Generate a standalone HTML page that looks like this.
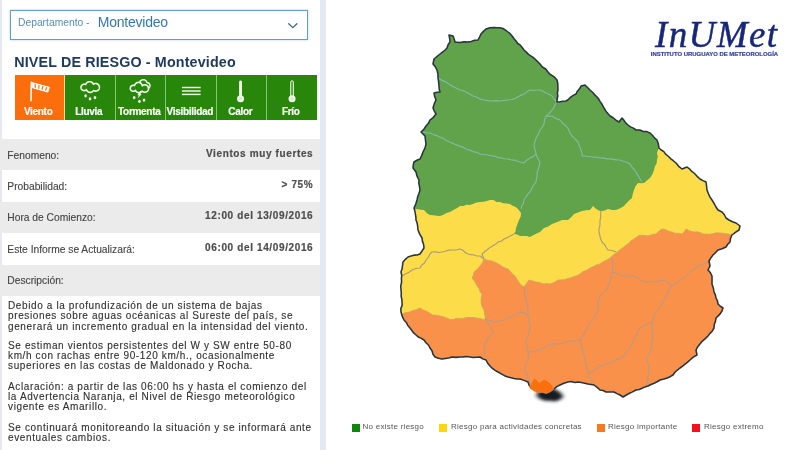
<!DOCTYPE html>
<html lang="es">
<head>
<meta charset="utf-8">
<title>INUMET - Nivel de Riesgo - Montevideo</title>
<style>
html,body{margin:0;padding:0;}
body{transform:translateZ(0);width:800px;height:450px;overflow:hidden;background:#fff;position:relative;font-family:"Liberation Sans",Arial,Helvetica,sans-serif;}
.abs{position:absolute;white-space:nowrap;line-height:1;}
.lstrip{position:absolute;left:0;top:0;width:1.7px;height:450px;background:#e6e9f0;}
.rstrip{position:absolute;left:319.6px;top:0;width:6.1px;height:450px;background:#e4eaf3;}
.select{position:absolute;left:10px;top:10px;width:296px;height:28px;border:1px solid #5fa1c6;background:#fff;box-shadow:0 0 2px rgba(95,165,200,.5);}
.dep{left:18px;top:17.9px;font-size:10.3px;color:#578bbb;}
.mvd{left:97.8px;top:15.2px;font-size:14px;letter-spacing:-.24px;color:#3577b5;}
.title{left:14.2px;top:54.9px;font-size:14.3px;font-weight:700;color:#1f3b61;letter-spacing:.15px;}
.tabs{position:absolute;left:14.6px;top:75.4px;width:302.2px;height:44.4px;background:#86c772;display:flex;}
.tab{flex:1;background:#28870a;margin-right:1px;position:relative;}
.tab:last-child{margin-right:0;}
.tab.on{background:#fc6e0b;}
.tab.on::after{content:"";position:absolute;right:-1px;top:0;width:1px;height:100%;background:#ecdca2;}
.tab span{position:absolute;left:-2.4px;right:0;top:31.3px;text-align:center;font-size:10px;font-weight:700;color:#fff;letter-spacing:-.3px;line-height:1;-webkit-text-stroke:.18px #fff;}
.tab svg{position:absolute;left:0;top:0;}
.row{position:absolute;left:0;width:319.7px;background:#ebebeb;}
.lab{left:7.3px;font-size:10.25px;color:#444;-webkit-text-stroke:.12px #444;}
.val{right:486.7px;font-size:10px;font-weight:700;color:#4e4e4e;letter-spacing:.63px;-webkit-text-stroke:.2px #4e4e4e;}
.desc{position:absolute;left:8px;font-size:10px;line-height:10.15px;letter-spacing:.625px;color:#303030;-webkit-text-stroke:.12px #303030;white-space:nowrap;}
.map{position:absolute;left:327px;top:0;}
.logo{left:655px;top:16.3px;font-family:"Liberation Serif","Times New Roman",serif;font-style:italic;font-size:37px;color:#17277c;letter-spacing:1.4px;-webkit-text-stroke:.45px #17277c;}
.sub{left:650.8px;top:51.5px;font-size:5.95px;font-weight:700;color:#34429c;-webkit-text-stroke:.2px #34429c;}
.sq{position:absolute;top:424.3px;width:8.2px;height:7.7px;}
.lg{top:422.9px;font-size:8px;letter-spacing:.26px;color:#555;}
</style>
</head>
<body>
<div class="lstrip"></div>
<div class="rstrip"></div>

<div class="select"></div>
<div class="abs dep">Departamento -</div>
<div class="abs mvd">Montevideo</div>
<svg class="abs" style="left:286px;top:21px" width="14" height="10" viewBox="0 0 14 10"><polyline points="2.7,2.7 6.8,6.6 10.9,2.7" fill="none" stroke="#3b6283" stroke-width="1.25" stroke-linecap="round" stroke-linejoin="round"/></svg>

<div class="abs title">NIVEL DE RIESGO - Montevideo</div>

<div class="tabs">
  <div class="tab on"><svg width="50" height="45" viewBox="0 0 50 45"><line x1="16.4" y1="7.2" x2="16" y2="25.6" stroke="#fff" stroke-width="1.6" stroke-linecap="round"/><polygon points="17,7.6 34.4,12.3 32.8,17.1 17.4,12.7" fill="#fff" stroke="#fff" stroke-width="0.9" stroke-linejoin="round"/><polygon points="19.61,9.00 20.83,9.33 20.79,12.97 19.71,12.66" fill="#fc6e0b"/><polygon points="23.44,10.04 24.66,10.37 24.18,13.94 23.10,13.63" fill="#fc6e0b"/><polygon points="27.27,11.07 28.48,11.40 27.56,14.90 26.49,14.60" fill="#fc6e0b"/><polygon points="31.09,12.11 32.31,12.44 30.95,15.87 29.87,15.56" fill="#fc6e0b"/></svg><span>Viento</span></div>
  <div class="tab"><svg width="50" height="45" viewBox="0 0 50 45"><path d="M28.37,9.04 L28.24,8.80 L28.09,8.57 L27.93,8.34 L27.76,8.13 L27.57,7.93 L27.37,7.74 L27.16,7.57 L26.93,7.41 L26.70,7.26 L26.46,7.13 L26.21,7.02 L25.95,6.92 L25.69,6.84 L25.42,6.78 L25.15,6.74 L24.87,6.71 L24.60,6.70 L24.33,6.71 L24.05,6.74 L23.78,6.78 L23.51,6.84 L23.25,6.92 L22.99,7.02 L22.74,7.13 L22.50,7.26 L22.27,7.41 L22.04,7.57 L21.83,7.74 L21.63,7.93 L21.44,8.13 L21.27,8.34 L21.11,8.57 L20.96,8.80 L20.83,9.04 L20.72,9.29 L20.63,9.54 L20.52,9.49 L20.33,9.41 L20.13,9.34 L19.93,9.28 L19.72,9.24 L19.51,9.22 L19.30,9.20 L19.10,9.20 L18.89,9.22 L18.68,9.24 L18.47,9.28 L18.27,9.34 L18.07,9.41 L17.88,9.49 L17.69,9.58 L17.51,9.68 L17.34,9.80 L17.17,9.93 L17.01,10.06 L16.86,10.21 L16.73,10.37 L16.60,10.54 L16.48,10.71 L16.38,10.89 L16.29,11.08 L16.21,11.27 L16.14,11.47 L16.08,11.67 L16.04,11.88 L16.02,12.09 L16.00,12.30 L16.00,12.50 L16.02,12.71 L16.04,12.92 L16.08,13.13 L16.14,13.33 L16.21,13.53 L16.29,13.72 L16.38,13.91 L16.48,14.09 L16.60,14.26 L16.73,14.43 L16.86,14.59 L17.01,14.74 L17.17,14.87 L17.34,15.00 L17.51,15.12 L17.69,15.22 L17.88,15.31 L18.07,15.39 L18.27,15.46 L18.47,15.52 L18.68,15.56 L18.89,15.58 L19.10,15.60 L19.30,15.60 L19.51,15.58 L19.72,15.56 L19.93,15.52 L20.13,15.46 L20.33,15.39 L20.52,15.31 L20.71,15.22 L20.89,15.12 L21.06,15.00 L21.23,14.87 L21.39,14.74 L21.53,14.59 L21.60,14.82 L21.69,15.05 L21.79,15.28 L21.91,15.50 L22.04,15.71 L22.19,15.91 L22.34,16.11 L22.51,16.29 L22.69,16.46 L22.89,16.61 L23.09,16.76 L23.30,16.89 L23.52,17.01 L23.75,17.11 L23.98,17.20 L24.22,17.27 L24.46,17.33 L24.70,17.37 L24.95,17.39 L25.20,17.40 L25.45,17.39 L25.70,17.37 L25.94,17.33 L26.18,17.27 L26.42,17.20 L26.65,17.11 L26.88,17.01 L27.10,16.89 L27.31,16.76 L27.51,16.61 L27.71,16.46 L27.89,16.29 L28.06,16.11 L28.21,15.91 L28.36,15.71 L28.49,15.50 L28.59,15.53 L28.81,15.65 L29.03,15.76 L29.26,15.86 L29.50,15.94 L29.74,16.00 L29.98,16.05 L30.23,16.08 L30.48,16.10 L30.72,16.10 L30.97,16.08 L31.22,16.05 L31.46,16.00 L31.70,15.94 L31.94,15.86 L32.17,15.76 L32.39,15.65 L32.61,15.53 L32.81,15.39 L33.01,15.24 L33.20,15.07 L33.37,14.90 L33.54,14.71 L33.69,14.51 L33.83,14.31 L33.95,14.09 L34.06,13.87 L34.16,13.64 L34.24,13.40 L34.30,13.16 L34.35,12.92 L34.38,12.67 L34.40,12.42 L34.40,12.18 L34.38,11.93 L34.35,11.68 L34.30,11.44 L34.24,11.20 L34.16,10.96 L34.06,10.73 L33.95,10.51 L33.83,10.29 L33.69,10.09 L33.54,9.89 L33.37,9.70 L33.20,9.53 L33.01,9.36 L32.81,9.21 L32.61,9.07 L32.39,8.95 L32.17,8.84 L31.94,8.74 L31.70,8.66 L31.46,8.60 L31.22,8.55 L30.97,8.52 L30.72,8.50 L30.48,8.50 L30.23,8.52 L29.98,8.55 L29.74,8.60 L29.50,8.66 L29.26,8.74 L29.03,8.84 L28.81,8.95 L28.59,9.07 L28.43,9.18 L28.37,9.04 Z" fill="none" stroke="#f3fbec" stroke-width="1.6" stroke-linejoin="round" /><ellipse cx="20.6" cy="20.8" rx="1.3" ry="1.65" fill="#f3fbec"/><ellipse cx="25" cy="23.8" rx="1.3" ry="1.65" fill="#f3fbec"/><ellipse cx="30" cy="22.6" rx="1.3" ry="1.65" fill="#f3fbec"/></svg><span>Lluvia</span></div>
  <div class="tab"><svg width="50" height="45" viewBox="0 0 50 45"><path d="M30.90,7.56 L30.84,7.33 L30.76,7.10 L30.67,6.87 L30.56,6.66 L30.44,6.45 L30.31,6.24 L30.16,6.05 L30.00,5.87 L29.83,5.70 L29.65,5.54 L29.46,5.39 L29.25,5.26 L29.04,5.14 L28.83,5.03 L28.60,4.94 L28.37,4.86 L28.14,4.80 L27.90,4.75 L27.66,4.72 L27.42,4.70 L27.18,4.70 L26.94,4.72 L26.70,4.75 L26.46,4.80 L26.23,4.86 L26.00,4.94 L25.77,5.03 L25.56,5.14 L25.35,5.26 L25.14,5.39 L24.95,5.54 L24.77,5.70 L24.60,5.87 L24.44,6.05 L24.29,6.24 L24.16,6.45 L24.04,6.66 L23.93,6.87 L23.84,7.10 L23.76,7.33 L23.70,7.56 L23.65,7.80 L23.62,8.04 L23.60,8.28 L23.60,8.52 L23.62,8.76 L23.65,9.00 L23.70,9.24 L23.76,9.47 L23.84,9.70 L23.93,9.93 L24.04,10.14 L24.16,10.35 L24.29,10.56 L24.44,10.75 L24.60,10.93 L24.77,11.10 L24.95,11.26 L25.14,11.41 L25.35,11.54 L25.56,11.66 L25.77,11.77 L26.00,11.86 L26.23,11.94 L26.46,12.00 L26.70,12.05 L26.94,12.08 L27.18,12.10 L27.42,12.10 L27.66,12.08 L27.90,12.05 L28.14,12.00 L28.32,11.96 L28.40,12.10 L28.51,12.27 L28.62,12.43 L28.74,12.58 L28.88,12.72 L29.02,12.86 L29.17,12.98 L29.33,13.09 L29.50,13.20 L29.67,13.29 L29.85,13.37 L30.04,13.44 L30.22,13.50 L30.41,13.54 L30.61,13.57 L30.80,13.59 L31.00,13.60 L31.20,13.59 L31.39,13.57 L31.59,13.54 L31.78,13.50 L31.96,13.44 L32.15,13.37 L32.33,13.29 L32.50,13.20 L32.67,13.09 L32.83,12.98 L32.98,12.86 L33.12,12.72 L33.26,12.58 L33.38,12.43 L33.49,12.27 L33.60,12.10 L33.69,11.93 L33.77,11.75 L33.84,11.56 L33.90,11.38 L33.94,11.19 L33.97,10.99 L33.99,10.80 L34.00,10.60 L33.99,10.40 L33.97,10.21 L33.94,10.01 L33.90,9.82 L33.84,9.64 L33.77,9.45 L33.69,9.27 L33.60,9.10 L33.49,8.93 L33.38,8.77 L33.26,8.62 L33.12,8.48 L32.98,8.34 L32.83,8.22 L32.67,8.11 L32.50,8.00 L32.33,7.91 L32.15,7.83 L31.96,7.76 L31.78,7.70 L31.59,7.66 L31.39,7.63 L31.20,7.61 L31.00,7.60 L30.90,7.56 Z" fill="none" stroke="#f3fbec" stroke-width="1.4500000000000002" stroke-linejoin="round" /><path d="M26.27,10.79 L26.23,10.54 L26.17,10.29 L26.09,10.05 L26.00,9.81 L25.90,9.58 L25.78,9.35 L25.64,9.13 L25.49,8.93 L25.33,8.73 L25.16,8.54 L24.97,8.37 L24.77,8.21 L24.57,8.06 L24.35,7.92 L24.12,7.80 L23.89,7.70 L23.65,7.61 L23.41,7.53 L23.16,7.47 L22.91,7.43 L22.66,7.41 L22.40,7.40 L22.14,7.41 L21.89,7.43 L21.64,7.47 L21.39,7.53 L21.15,7.61 L20.91,7.70 L20.68,7.80 L20.45,7.92 L20.23,8.06 L20.03,8.21 L19.83,8.37 L19.64,8.54 L19.47,8.73 L19.31,8.93 L19.16,9.13 L19.02,9.35 L18.90,9.58 L18.80,9.81 L18.71,10.05 L18.63,10.29 L18.57,10.54 L18.54,10.57 L18.36,10.49 L18.17,10.43 L17.98,10.38 L17.79,10.34 L17.59,10.31 L17.40,10.30 L17.20,10.30 L17.01,10.31 L16.81,10.34 L16.62,10.38 L16.43,10.43 L16.24,10.49 L16.06,10.57 L15.89,10.65 L15.72,10.75 L15.55,10.86 L15.40,10.98 L15.25,11.11 L15.11,11.25 L14.98,11.40 L14.86,11.55 L14.75,11.72 L14.65,11.89 L14.57,12.06 L14.49,12.24 L14.43,12.43 L14.38,12.62 L14.34,12.81 L14.31,13.01 L14.30,13.20 L14.30,13.40 L14.31,13.59 L14.34,13.79 L14.38,13.98 L14.43,14.17 L14.49,14.36 L14.57,14.54 L14.65,14.71 L14.75,14.88 L14.86,15.05 L14.98,15.20 L15.11,15.35 L15.25,15.49 L15.40,15.62 L15.55,15.74 L15.72,15.85 L15.89,15.95 L16.06,16.03 L16.24,16.11 L16.43,16.17 L16.62,16.22 L16.81,16.26 L17.01,16.29 L17.20,16.30 L17.40,16.30 L17.59,16.29 L17.79,16.26 L17.98,16.22 L18.17,16.17 L18.36,16.11 L18.54,16.03 L18.71,15.95 L18.88,15.85 L19.05,15.74 L19.20,15.62 L19.35,15.49 L19.49,15.35 L19.54,15.30 L19.63,15.53 L19.74,15.74 L19.86,15.95 L19.99,16.16 L20.14,16.35 L20.30,16.53 L20.47,16.70 L20.65,16.86 L20.84,17.01 L21.05,17.14 L21.26,17.26 L21.47,17.37 L21.70,17.46 L21.93,17.54 L22.16,17.60 L22.40,17.65 L22.64,17.68 L22.88,17.70 L23.12,17.70 L23.36,17.68 L23.60,17.65 L23.84,17.60 L24.07,17.54 L24.30,17.46 L24.53,17.37 L24.74,17.26 L24.95,17.14 L25.16,17.01 L25.35,16.86 L25.53,16.70 L25.70,16.53 L25.86,16.35 L26.01,16.16 L26.10,16.03 L26.18,16.12 L26.36,16.28 L26.55,16.44 L26.74,16.58 L26.95,16.70 L27.16,16.82 L27.38,16.92 L27.61,17.00 L27.84,17.07 L28.08,17.13 L28.32,17.17 L28.56,17.19 L28.80,17.20 L29.04,17.19 L29.28,17.17 L29.52,17.13 L29.76,17.07 L29.99,17.00 L30.22,16.92 L30.44,16.82 L30.65,16.70 L30.86,16.58 L31.05,16.44 L31.24,16.28 L31.42,16.12 L31.58,15.94 L31.74,15.75 L31.88,15.56 L32.00,15.35 L32.12,15.14 L32.22,14.92 L32.30,14.69 L32.37,14.46 L32.43,14.22 L32.47,13.98 L32.49,13.74 L32.50,13.50 L32.49,13.26 L32.47,13.02 L32.43,12.78 L32.37,12.54 L32.30,12.31 L32.22,12.08 L32.12,11.86 L32.00,11.65 L31.88,11.44 L31.74,11.25 L31.58,11.06 L31.42,10.88 L31.24,10.72 L31.05,10.56 L30.86,10.42 L30.65,10.30 L30.44,10.18 L30.22,10.08 L29.99,10.00 L29.76,9.93 L29.52,9.87 L29.28,9.83 L29.04,9.81 L28.80,9.80 L28.56,9.81 L28.32,9.83 L28.08,9.87 L27.84,9.93 L27.61,10.00 L27.38,10.08 L27.16,10.18 L26.95,10.30 L26.74,10.42 L26.55,10.56 L26.36,10.72 L26.27,10.80 Z" fill="#28870a" stroke="#f3fbec" stroke-width="1.6" stroke-linejoin="round" /><polygon points="24.0,16.0 25.9,16.0 24.3,19.0 25.7,19.0 21.5,23.8 22.9,20.3 21.4,20.3" fill="#f3fbec"/><ellipse cx="18.2" cy="22.6" rx="1.3" ry="1.65" fill="#f3fbec"/><ellipse cx="23.4" cy="26.3" rx="1.3" ry="1.65" fill="#f3fbec"/><ellipse cx="28" cy="25.1" rx="1.3" ry="1.65" fill="#f3fbec"/></svg><span>Tormenta</span></div>
  <div class="tab"><svg width="50" height="45" viewBox="0 0 50 45"><line x1="15.9" y1="12.5" x2="34.6" y2="12.5" stroke="#f3fbec" stroke-width="1.45"/><line x1="15.9" y1="16" x2="34.6" y2="16" stroke="#f3fbec" stroke-width="1.45"/><line x1="15.9" y1="19.4" x2="34.6" y2="19.4" stroke="#f3fbec" stroke-width="1.45"/></svg><span>Visibilidad</span></div>
  <div class="tab"><svg width="50" height="45" viewBox="0 0 50 45"><rect x="22.1" y="5.5" width="2.9" height="17" rx="1.45" fill="#f3fbec"/><circle cx="23.55" cy="23.7" r="3.5" fill="#f3fbec"/><circle cx="23.55" cy="23.7" r="1.7" fill="#d9ecd0"/></svg><span>Calor</span></div>
  <div class="tab"><svg width="50" height="45" viewBox="0 0 50 45"><rect x="23.75" y="5.8" width="2.6" height="16.6" rx="1.3" fill="#3d9222" stroke="#f3fbec" stroke-width="1"/><circle cx="25.05" cy="23.7" r="3.5" fill="#f3fbec"/><circle cx="25.05" cy="23.7" r="1.7" fill="#d9ecd0"/></svg><span>Frío</span></div>
</div>

<div class="row" style="top:138.7px;height:31.3px"></div>
<div class="row" style="top:202px;height:31px"></div>
<div class="row" style="top:265px;height:30.6px"></div>

<div class="abs lab" style="top:151.2px">Fenomeno:</div>
<div class="abs lab" style="top:182.3px">Probabilidad:</div>
<div class="abs lab" style="top:212.6px">Hora de Comienzo:</div>
<div class="abs lab" style="top:244.5px">Este Informe se Actualizará:</div>
<div class="abs lab" style="top:276.3px">Descripción:</div>

<div class="abs val" style="top:148.7px">Vientos muy fuertes</div>
<div class="abs val" style="top:180.3px">&gt; 75%</div>
<div class="abs val" style="top:211.2px">12:00 del 13/09/2016</div>
<div class="abs val" style="top:242.6px">06:00 del 14/09/2016</div>

<div class="desc" style="top:301.2px">Debido a la profundización de un sistema de bajas<br>presiones sobre aguas océanicas al Sureste del país, se<br>generará un incremento gradual en la intensidad del viento.</div>
<div class="desc" style="top:340.57px">Se estiman vientos persistentes del W y SW entre 50-80<br>km/h con rachas entre 90-120 km/h., ocasionalmente<br>superiores en las costas de Maldonado y Rocha.</div>
<div class="desc" style="top:381.77px">Aclaración: a partir de las 06:00 hs y hasta el comienzo del<br>la Advertencia Naranja, el Nivel de Riesgo meteorológico<br>vigente es Amarillo.</div>
<div class="desc" style="top:422.67px">Se continuará monitoreando la situación y se informará ante<br>eventuales cambios.</div>

<svg class="map" width="473" height="450" viewBox="327 0 473 450">
<defs><clipPath id="uy"><polygon points="449.0,35.0 453.0,36.0 454.18,38.94 455.0,42.0 460.0,42.5 463.98,41.87 468.0,42.0 471.37,41.5 474.57,40.21 478.0,40.0 479.54,37.02 481.0,34.0 483.4,31.4 486.0,29.0 489.91,27.77 494.0,27.5 497.0,27.84 500.06,27.66 503.0,28.5 505.54,30.19 508.0,32.0 510.35,33.94 512.34,36.2 514.06,38.69 516.0,41.0 517.73,43.49 520.31,45.23 522.23,47.55 524.0,50.0 526.31,52.11 528.48,54.38 531.15,56.07 533.67,57.91 536.0,60.0 540.0,64.0 542.3,67.04 545.69,68.98 548.0,72.0 549.99,74.29 552.65,75.83 555.01,77.71 557.0,80.0 557.75,83.29 557.88,86.65 558.0,90.0 557.4,92.97 557.85,96.03 557.16,98.99 557.0,102.0 560.02,101.82 562.98,101.19 566.0,101.0 568.53,99.29 570.72,97.11 573.22,95.35 576.0,94.0 577.39,91.16 579.5,88.77 581.0,86.0 585.0,85.0 587.56,87.44 590.0,90.0 592.81,92.52 595.27,95.4 598.0,98.0 600.04,101.31 602.19,104.55 604.0,108.0 605.74,110.86 607.82,113.46 610.0,116.0 613.16,117.77 615.95,120.07 619.0,122.0 622.0,118.0 623.98,120.35 625.69,122.94 628.0,125.0 630.53,126.88 633.46,128.14 636.0,130.0 640.0,130.0 643.18,131.51 646.79,131.6 650.0,133.0 652.4,135.27 654.47,137.87 657.0,140.0 658.37,143.91 659.0,148.0 661.26,149.99 663.84,151.62 665.63,154.14 668.0,156.0 670.48,158.55 673.28,160.73 676.0,163.0 678.71,166.29 682.0,169.0 687.0,167.0 689.47,168.84 691.53,171.16 694.0,173.0 696.93,176.07 700.0,179.0 702.96,180.58 706.0,182.0 706.55,185.99 707.0,190.0 708.33,193.5 709.9,196.89 712.0,200.0 714.02,203.32 715.85,206.76 718.0,210.0 722.0,212.0 724.4,214.73 726.0,218.0 729.0,220.0 732.41,221.7 736.0,223.0 740.0,226.0 739.0,230.0 735.41,232.37 732.0,235.0 730.48,238.35 730.0,242.0 727.72,244.28 726.0,247.0 722.08,248.72 718.0,250.0 715.59,252.59 713.0,255.0 710.85,257.9 709.0,261.0 710.0,266.0 708.0,270.0 710.44,272.71 712.0,276.0 712.04,280.0 712.0,284.0 713.35,287.91 714.0,292.0 715.4,294.87 716.0,298.0 717.46,300.85 718.0,304.0 720.32,306.23 723.0,308.0 722.0,311.0 720.31,313.6 718.21,315.85 716.0,318.0 715.45,321.36 714.27,324.59 714.0,328.0 712.37,330.94 710.04,333.37 708.0,336.0 705.29,338.63 702.37,341.04 700.0,344.0 697.71,346.81 696.0,350.0 697.0,355.0 693.27,357.17 690.0,360.0 687.65,362.19 685.06,364.07 682.6,366.12 680.0,368.0 677.37,370.03 674.98,372.31 673.0,375.0 670.16,376.68 667.14,377.99 664.0,379.0 660.0,380.0 657.13,381.76 654.13,383.26 651.01,384.51 648.0,386.0 644.97,386.91 642.08,388.25 639.17,389.52 636.0,390.0 632.04,392.08 628.0,394.0 623.0,397.0 620.0,395.0 616.94,393.63 614.0,392.0 610.0,391.93 606.0,392.0 603.16,390.53 600.0,390.0 597.13,387.34 594.0,385.0 591.0,384.48 588.0,384.0 584.69,383.21 581.37,382.48 578.0,382.0 574.67,382.49 571.33,381.56 568.0,382.0 563.89,383.21 560.0,385.0 556.77,386.66 554.0,389.0 549.85,390.71 546.0,393.0 541.99,392.62 538.0,392.0 534.44,390.1 531.0,388.0 529.11,385.2 528.0,382.0 524.05,380.36 520.0,379.0 516.92,378.97 513.92,378.47 510.95,377.82 508.0,377.0 504.5,375.67 501.25,373.82 498.0,372.0 495.04,370.39 492.34,368.44 490.0,366.0 487.68,363.21 486.0,360.0 482.8,358.89 480.0,357.0 476.67,357.15 473.33,357.52 470.0,357.0 466.67,356.59 463.33,356.87 460.0,357.0 456.0,357.39 452.0,357.0 448.72,357.93 445.37,358.5 442.0,359.0 438.46,358.14 435.0,357.0 432.97,354.2 432.0,350.81 430.0,348.0 428.43,345.01 425.97,342.69 424.0,340.0 421.32,338.35 418.43,337.05 416.0,335.0 413.67,332.95 411.87,330.45 410.0,328.0 407.79,325.49 406.29,322.45 404.0,320.0 402.15,316.13 401.0,312.0 400.81,308.61 402.16,305.38 402.0,302.0 401.78,299.0 401.11,296.03 401.3,293.0 401.0,290.0 400.78,285.96 401.6,282.0 401.43,278.66 401.73,275.3 401.0,272.0 402.06,268.75 402.54,265.38 403.0,262.0 405.31,259.31 408.0,257.0 410.96,256.11 413.91,255.14 417.07,255.04 420.0,254.0 422.03,251.02 424.0,248.0 423.63,244.61 422.48,241.37 422.0,238.0 419.73,234.14 418.0,230.0 417.67,226.6 417.19,223.23 416.0,220.0 415.88,216.94 415.33,213.94 414.85,210.94 414.0,208.0 415.75,204.09 417.0,200.0 417.71,196.58 419.02,193.34 420.0,190.0 419.51,186.68 418.82,183.38 419.0,180.0 417.01,176.18 416.0,172.0 413.0,168.0 413.26,164.96 414.0,162.0 416.88,160.26 420.0,159.0 421.69,155.58 423.0,152.0 424.97,148.18 426.0,144.0 425.44,140.01 425.0,136.0 421.0,132.0 423.87,129.31 426.0,126.0 428.45,123.3 430.0,120.0 433.35,117.35 436.0,114.0 434.37,111.07 433.0,108.0 434.21,103.89 436.0,100.0 434.71,96.58 434.0,93.0 436.95,92.17 440.0,92.0 439.18,89.05 439.0,86.0 438.64,81.98 438.0,78.0 437.94,73.95 437.0,70.0 435.31,66.79 433.0,64.0 434.0,59.0 436.99,56.48 440.0,54.0 442.44,52.13 444.88,50.25 447.0,48.0 448.09,44.8 450.0,42.0 449.67,38.48"/></clipPath><filter id="blur" x="-50%" y="-50%" width="200%" height="200%"><feGaussianBlur stdDeviation="1.9"/></filter></defs>
<polygon points="529.6,386.8 531,383.4 534.2,378 536.6,379.4 539,382.4 541.4,381 544.2,379.2 547,380.6 550.2,383 552.8,385.8 553.8,389 550.4,391.8 546.2,393.6 542.2,392.2 538.2,392.8 535,391.6 531.6,389.6" fill="#141c22" stroke="#141c22" stroke-width="2.5" stroke-linejoin="round" filter="url(#blur)" transform="translate(8 8.2) scale(1 0.8) translate(0 97)"/>
<g clip-path="url(#uy)">
<rect x="380" y="0" width="400" height="420" fill="#f9914a"/>
<polygon points="380,0 380,314 402.0,314.0 405.24,312.68 408.74,312.25 412.0,311.0 416.09,309.74 420.0,308.0 422.78,309.94 426.0,311.0 429.24,312.63 432.0,315.0 436.05,315.13 440.0,316.0 443.5,316.7 446.79,317.97 450.0,319.5 453.37,319.49 456.62,318.32 460.0,318.5 463.34,318.21 466.63,317.43 470.0,317.5 473.36,317.55 476.68,318.07 480.0,318.5 485.0,320.0 485.14,316.62 484.48,313.32 484.0,310.0 481.86,306.24 481.0,302.0 481.19,297.96 482.0,294.0 479.91,291.6 479.11,288.39 477.0,286.0 475.7,283.1 474.03,280.44 472.0,278.0 473.43,275.14 474.0,272.0 477.24,269.24 480.0,266.0 482.55,262.81 484.0,259.0 487.9,260.4 492.0,261.0 496.15,262.7 500.0,265.0 503.78,267.44 508.0,269.0 510.35,271.32 512.41,273.92 515.0,276.0 516.59,278.71 518.42,281.28 520.0,284.0 524.0,287.0 526.35,283.39 529.0,280.0 532.53,280.91 536.0,282.0 540.06,282.75 544.0,284.0 547.0,283.46 550.0,284.0 554.2,282.4 558.0,280.0 561.07,279.91 564.11,279.67 567.04,278.76 570.0,278.0 573.36,276.74 576.8,275.66 580.0,274.0 583.07,271.56 586.79,270.21 590.0,268.0 593.3,266.59 596.5,264.91 600.0,264.0 603.12,261.64 606.68,260.03 610.0,258.0 612.78,255.23 616.0,253.0 618.46,250.96 621.0,249.0 623.59,247.29 625.91,245.22 628.5,243.5 630.92,240.85 634.0,239.0 636.49,237.24 639.0,235.5 642.02,235.3 645.02,235.46 648.0,236.0 651.9,234.59 656.0,234.0 658.88,231.36 662.0,229.0 665.5,229.43 668.61,231.2 672.0,232.0 675.21,233.29 678.7,233.18 682.0,234.0 684.24,231.69 686.0,229.0 689.79,231.07 694.0,232.0 697.11,231.87 700.08,232.51 702.93,233.92 706.0,234.0 709.53,234.22 713.01,233.69 716.47,232.77 720.0,233.0 724.02,233.38 728.0,234.0 732,235 760,235 760,0" fill="#fddc4a"/>
<polygon points="380,0 380,208 414.0,208.0 415.0,209.0 418.01,209.27 420.99,209.75 424.0,210.0 426.62,212.96 430.0,215.0 433.34,215.29 436.67,215.68 440.0,216.0 443.38,214.78 446.5,212.92 450.0,212.0 453.34,210.01 456.76,208.16 460.0,206.0 463.37,206.07 466.61,204.77 470.0,205.0 473.25,203.74 476.5,202.45 480.0,202.0 483.42,201.76 486.72,200.93 490.0,200.0 493.46,200.04 496.53,202.0 500.0,202.0 503.21,203.3 506.62,203.54 510.0,204.0 512.58,205.8 515.59,206.93 518.0,209.0 521.0,213.0 520.65,216.69 519.0,220.0 517.46,223.99 516.0,228.0 515.58,231.19 514.0,234.0 517.14,234.59 520.0,236.0 523.37,235.97 526.73,236.01 530.0,237.0 533.31,235.29 536.63,233.59 540.0,232.0 544.0,228.0 548.21,226.43 552.0,224.0 555.34,222.69 558.74,221.52 562.0,220.0 565.0,220.0 568.0,220.0 571.16,217.16 574.0,214.0 577.98,212.44 582.0,211.0 585.96,210.19 590.0,210.0 593.0,206.0 596.1,209.07 600.0,211.0 604.17,210.67 608.0,209.0 611.94,209.97 616.0,210.0 620.13,208.26 624.0,206.0 626.48,203.15 629.07,200.4 632.0,198.0 632.71,193.93 634.0,190.0 635.48,186.2 638.0,183.0 641.0,183.37 644.0,183.0 646.91,180.39 650.0,178.0 652.43,174.22 654.0,170.0 654.85,166.62 656.61,163.52 657.0,160.0 657.82,156.72 656.97,153.26 658.0,150.0 659,148 700,148 700,0" fill="#60a34a"/>
</g>
<polyline points="438.0,78.0 441.82,80.36 446.0,82.0 449.24,84.16 452.53,86.23 456.0,88.0 459.18,89.71 462.76,90.44 466.0,92.0 469.27,93.79 472.49,95.7 476.0,97.0 479.87,98.85 484.0,100.0 487.99,100.57 492.0,101.0 496.0,100.67 500.0,101.0 503.99,100.41 508.0,100.0 512.12,99.48 516.0,98.0 519.82,95.65 524.0,94.0 526.9,91.85 530.0,90.0 533.33,90.45 536.67,89.95 540.0,90.0 543.13,91.24 546.0,93.0 549.08,94.34 552.0,96.0 554.19,99.26 557,102" fill="none" stroke="#86bdb4" stroke-width="1.15" stroke-opacity="0.85" stroke-linejoin="round"/>
<polyline points="421.0,132.0 424.04,132.0 426.98,132.86 430.0,133.0 433.28,134.46 436.67,135.65 440.0,137.0 443.13,138.25 445.87,140.26 448.86,141.78 452.0,143.0 454.8,144.21 457.6,145.4 460.5,146.36 463.4,147.34 466.0,149.0 469.54,150.13 472.97,151.58 476.64,152.34 480.0,154.0 482.95,154.79 486.04,154.74 489.04,155.24 492.0,156.0 495.28,156.15 498.31,157.69 501.56,158.03 504.73,158.77 508.0,159.0 511.17,159.91 514.51,160.15 517.64,161.23 520.8,162.2 524.0,163.0 526.75,160.2 530.0,158.0 533.25,156.38 536,154" fill="none" stroke="#86bdb4" stroke-width="1.15" stroke-opacity="0.85" stroke-linejoin="round"/>
<polyline points="557.0,102.0 554.94,104.42 553.97,107.52 552.0,110.0 549.34,113.34 546.0,116.0 544.52,119.88 544.0,124.0 542.26,127.18 540.0,130.0 538.34,134.17 536.0,138.0 534.85,141.96 534.0,146.0 535.15,149.96 536.0,154.0 537.65,158.17 540.0,162.0 539.26,166.07 538.0,170.0 537.05,172.92 537.18,176.03 536.4,178.98 536.0,182.0 533.63,185.11 531.84,188.57 530.0,192.0 527.66,194.41 525.83,197.21 524.0,200.0 523.43,203.14 521.64,205.88 521,209" fill="none" stroke="#86bdb4" stroke-width="1.15" stroke-opacity="0.85" stroke-linejoin="round"/>
<polyline points="546.0,116.0 549.0,116.42 552.0,116.0 555.8,118.4 560.0,120.0 562.72,123.28 566.0,126.0 568.36,129.12 569.92,132.71 572.0,136.0 575.05,138.95 578.0,142.0 579.47,146.01 581.0,150.0 581.86,152.94 582.0,156.0 585.03,156.03 588.01,156.61 591.03,156.72 594.0,157.29 597.05,157.19 600.0,158.0 603.37,157.92 606.65,158.88 610.01,158.92 613.33,159.35 616.64,159.9 620.0,160.0 623.39,161.2 626.83,162.26 630.0,164.0 631.77,166.84 633.93,169.39 636.0,172.0 637.86,175.41 639.9,178.73 642,182" fill="none" stroke="#86bdb4" stroke-width="1.15" stroke-opacity="0.85" stroke-linejoin="round"/>
<polyline points="402.0,276.0 405.31,273.96 408.9,272.39 412.0,270.0 415.86,268.45 420.0,268.0 421.79,265.18 424.44,263.0 426.0,260.0 428.16,257.45 429.64,254.4 432.0,252.0 435.33,251.82 438.67,252.46 442.0,252.0 445.32,251.26 448.56,250.11 452.0,250.0 456.06,249.97 460.0,249.0 462.9,250.29 465.24,252.48 468.0,254.0 470.98,254.64 474.01,254.95 476.91,256.05 480.0,256.0 484,259" fill="none" stroke="#ab9d78" stroke-width="1.15" stroke-linejoin="round"/>
<polyline points="514.0,234.0 510.73,235.79 507.48,237.62 504.0,239.0 501.55,241.01 498.4,241.91 496.0,244.0 493.28,245.59 490.55,247.14 488.0,249.0 484.96,251.45 482.0,254.0 484,259" fill="none" stroke="#ab9d78" stroke-width="1.15" stroke-linejoin="round"/>
<polyline points="601.0,211.0 600.5,213.98 600.9,217.06 600.0,220.0 600.02,223.02 599.83,226.03 598.97,228.98 599.0,232.0 599.8,235.39 600.55,238.8 602.0,242.0 604.4,244.37 606.07,247.28 608.0,250.0 612.14,250.45 616,252" fill="none" stroke="#ab9d78" stroke-width="1.15" stroke-linejoin="round"/>
<polyline points="402.0,314.0 405.24,312.68 408.74,312.25 412.0,311.0 416.09,309.74 420.0,308.0 422.78,309.94 426.0,311.0 429.24,312.63 432.0,315.0 436.05,315.13 440.0,316.0 443.5,316.7 446.79,317.97 450.0,319.5 453.37,319.49 456.62,318.32 460.0,318.5 463.34,318.21 466.63,317.43 470.0,317.5 473.36,317.55 476.68,318.07 480.0,318.5 485.0,320.0 485.14,316.62 484.48,313.32 484.0,310.0 481.86,306.24 481.0,302.0 481.19,297.96 482.0,294.0 479.91,291.6 479.11,288.39 477.0,286.0 475.7,283.1 474.03,280.44 472.0,278.0 473.43,275.14 474.0,272.0 477.24,269.24 480.0,266.0 482.55,262.81 484.0,259.0 487.9,260.4 492.0,261.0 496.15,262.7 500.0,265.0 503.78,267.44 508.0,269.0 510.35,271.32 512.41,273.92 515.0,276.0 516.59,278.71 518.42,281.28 520.0,284.0 524.0,287.0 526.35,283.39 529.0,280.0 532.53,280.91 536.0,282.0 540.06,282.75 544.0,284.0 547.0,283.46 550.0,284.0 554.2,282.4 558.0,280.0 561.07,279.91 564.11,279.67 567.04,278.76 570.0,278.0 573.36,276.74 576.8,275.66 580.0,274.0 583.07,271.56 586.79,270.21 590.0,268.0 593.3,266.59 596.5,264.91 600.0,264.0 603.12,261.64 606.68,260.03 610.0,258.0 612.78,255.23 616.0,253.0 618.46,250.96 621.0,249.0 623.59,247.29 625.91,245.22 628.5,243.5 630.92,240.85 634.0,239.0 636.49,237.24 639.0,235.5 642.02,235.3 645.02,235.46 648.0,236.0 651.9,234.59 656.0,234.0 658.88,231.36 662.0,229.0 665.5,229.43 668.61,231.2 672.0,232.0 675.21,233.29 678.7,233.18 682.0,234.0 684.24,231.69 686.0,229.0 689.79,231.07 694.0,232.0 697.11,231.87 700.08,232.51 702.93,233.92 706.0,234.0 709.53,234.22 713.01,233.69 716.47,232.77 720.0,233.0 724.02,233.38 728.0,234.0 732,235" fill="none" stroke="#c8a860" stroke-width="0.8" stroke-linejoin="round"/>
<polyline points="524.0,287.0 524.51,289.98 524.6,293.01 525.0,296.0 526.2,299.27 526.73,302.75 528.0,306.0 528.03,309.5 528,313" fill="none" stroke="#b09c90" stroke-width="1" stroke-linejoin="round"/>
<polyline points="485.0,319.0 488.0,320.0 490.98,321.05 494.0,322.0 497.39,321.61 500.64,320.51 504.0,320.0 507.26,318.19 510.74,316.82 514.0,315.0 516.99,313.49 520.0,312.0 524.03,312.88 528,314" fill="none" stroke="#b09c90" stroke-width="1" stroke-linejoin="round"/>
<polyline points="528.0,314.0 528.12,317.06 529.29,319.95 529.08,323.07 530.0,326.0 529.73,329.04 529.0,332.0 528.03,335.34 526.66,338.56 526.0,342.0 526.79,345.31 527.33,348.67 528.0,352.0 528.3,356.0 528.0,360.0 526.11,363.85 525.0,368.0 525.58,371.46 527.28,374.58 528.0,378.0 530,383" fill="none" stroke="#b09c90" stroke-width="1" stroke-linejoin="round"/>
<polyline points="485.0,319.0 487.54,322.47 490.0,326.0 491.67,328.92 493.0,332.0 490.22,334.76 488.0,338.0 486.01,342.01 484.0,346.0 484.7,349.63 484.44,353.35 485,357" fill="none" stroke="#b09c90" stroke-width="1" stroke-linejoin="round"/>
<polyline points="528.0,352.0 532.0,352.0 535.99,350.98 540.0,350.0 543.39,348.1 546.62,345.93 550.0,344.0 553.33,344.38 556.67,343.57 560.0,344.0 563.46,343.42 566.72,342.18 570.0,341.0 573.36,340.94 576.69,340.6 580,340" fill="none" stroke="#b09c90" stroke-width="1" stroke-linejoin="round"/>
<polyline points="612.0,258.0 612.33,260.99 612.69,263.98 612.44,267.03 613.0,270.0 612.3,273.01 611.47,275.99 610.71,278.99 610.0,282.0 608.13,286.06 606.0,290.0 602.91,292.91 600.0,296.0 598.65,299.91 598.0,304.0 598.39,307.0 598.0,310.0 595.95,313.31 594.18,316.78 592.0,320.0 589.88,323.26 587.9,326.61 586.0,330.0 584.35,333.54 582.3,336.85 580,340" fill="none" stroke="#b09c90" stroke-width="1" stroke-linejoin="round"/>
<polyline points="580.0,340.0 581.12,342.91 581.56,345.99 582.47,348.94 583.0,352.0 583.8,354.99 584.71,357.95 584.93,361.08 586.0,364.0 586.7,367.01 587.29,370.05 587.88,373.09 589.0,376.0 590.5,379.0 592.0,382.0 594,385" fill="none" stroke="#b09c90" stroke-width="1" stroke-linejoin="round"/>
<polyline points="589.0,374.0 592.0,372.0 594.44,369.69 597.48,368.19 600.0,366.0 603.13,365.4 605.98,363.93 609.13,363.38 612.0,362.0 614.97,360.44 618.05,359.1 621.17,357.84 624.0,356.0 625.79,353.17 627.67,350.42 630.0,348.0 631.24,344.87 632.63,341.81 634.45,338.98 636.0,336.0 637.7,331.85 640.0,328.0 643.84,325.67 648.0,324.0 652,322" fill="none" stroke="#b09c90" stroke-width="1" stroke-linejoin="round"/>
<polyline points="613.0,272.0 616.59,273.54 620.2,275.04 624.0,276.0 627.33,276.22 630.67,276.37 634.0,276.0 637.51,277.7 640.63,280.06 644.0,282.0 647.33,281.94 650.67,281.79 654.0,282.0 657.4,281.65 660.64,280.52 664.0,280.0 666.41,282.34 669.41,283.9 672,286" fill="none" stroke="#b09c90" stroke-width="1" stroke-linejoin="round"/>
<polyline points="672.0,286.0 675.09,284.14 677.8,281.7 680.83,279.75 684.0,278.0 686.73,275.4 689.22,272.56 692.0,270.0 694.86,268.65 697.47,266.89 700.0,265.0 704.12,263.81 708,262" fill="none" stroke="#b09c90" stroke-width="1" stroke-linejoin="round"/>
<polyline points="672.0,286.0 669.69,288.8 668.0,292.0 666.17,296.08 664.0,300.0 662.03,303.35 660.28,306.84 658.0,310.0 655.63,312.75 654.0,316.0 653.29,319.1 652,322" fill="none" stroke="#b09c90" stroke-width="1" stroke-linejoin="round"/>
<polyline points="652.0,322.0 652.36,325.19 652.29,328.41 653.04,331.57 652.37,334.83 653.0,338.0 652.21,340.95 651.56,343.93 651.71,347.04 651.0,350.0 649.56,352.81 648.01,355.55 646.0,358.0 647.26,361.25 648.41,364.54 649.0,368.0 648.58,370.99 648.62,374.01 647.97,376.98 648.0,380.0 646.78,382.93 646,386" fill="none" stroke="#b09c90" stroke-width="1" stroke-linejoin="round"/>
<polygon points="449.0,35.0 453.0,36.0 454.18,38.94 455.0,42.0 460.0,42.5 463.98,41.87 468.0,42.0 471.37,41.5 474.57,40.21 478.0,40.0 479.54,37.02 481.0,34.0 483.4,31.4 486.0,29.0 489.91,27.77 494.0,27.5 497.0,27.84 500.06,27.66 503.0,28.5 505.54,30.19 508.0,32.0 510.35,33.94 512.34,36.2 514.06,38.69 516.0,41.0 517.73,43.49 520.31,45.23 522.23,47.55 524.0,50.0 526.31,52.11 528.48,54.38 531.15,56.07 533.67,57.91 536.0,60.0 540.0,64.0 542.3,67.04 545.69,68.98 548.0,72.0 549.99,74.29 552.65,75.83 555.01,77.71 557.0,80.0 557.75,83.29 557.88,86.65 558.0,90.0 557.4,92.97 557.85,96.03 557.16,98.99 557.0,102.0 560.02,101.82 562.98,101.19 566.0,101.0 568.53,99.29 570.72,97.11 573.22,95.35 576.0,94.0 577.39,91.16 579.5,88.77 581.0,86.0 585.0,85.0 587.56,87.44 590.0,90.0 592.81,92.52 595.27,95.4 598.0,98.0 600.04,101.31 602.19,104.55 604.0,108.0 605.74,110.86 607.82,113.46 610.0,116.0 613.16,117.77 615.95,120.07 619.0,122.0 622.0,118.0 623.98,120.35 625.69,122.94 628.0,125.0 630.53,126.88 633.46,128.14 636.0,130.0 640.0,130.0 643.18,131.51 646.79,131.6 650.0,133.0 652.4,135.27 654.47,137.87 657.0,140.0 658.37,143.91 659.0,148.0 661.26,149.99 663.84,151.62 665.63,154.14 668.0,156.0 670.48,158.55 673.28,160.73 676.0,163.0 678.71,166.29 682.0,169.0 687.0,167.0 689.47,168.84 691.53,171.16 694.0,173.0 696.93,176.07 700.0,179.0 702.96,180.58 706.0,182.0 706.55,185.99 707.0,190.0 708.33,193.5 709.9,196.89 712.0,200.0 714.02,203.32 715.85,206.76 718.0,210.0 722.0,212.0 724.4,214.73 726.0,218.0 729.0,220.0 732.41,221.7 736.0,223.0 740.0,226.0 739.0,230.0 735.41,232.37 732.0,235.0 730.48,238.35 730.0,242.0 727.72,244.28 726.0,247.0 722.08,248.72 718.0,250.0 715.59,252.59 713.0,255.0 710.85,257.9 709.0,261.0 710.0,266.0 708.0,270.0 710.44,272.71 712.0,276.0 712.04,280.0 712.0,284.0 713.35,287.91 714.0,292.0 715.4,294.87 716.0,298.0 717.46,300.85 718.0,304.0 720.32,306.23 723.0,308.0 722.0,311.0 720.31,313.6 718.21,315.85 716.0,318.0 715.45,321.36 714.27,324.59 714.0,328.0 712.37,330.94 710.04,333.37 708.0,336.0 705.29,338.63 702.37,341.04 700.0,344.0 697.71,346.81 696.0,350.0 697.0,355.0 693.27,357.17 690.0,360.0 687.65,362.19 685.06,364.07 682.6,366.12 680.0,368.0 677.37,370.03 674.98,372.31 673.0,375.0 670.16,376.68 667.14,377.99 664.0,379.0 660.0,380.0 657.13,381.76 654.13,383.26 651.01,384.51 648.0,386.0 644.97,386.91 642.08,388.25 639.17,389.52 636.0,390.0 632.04,392.08 628.0,394.0 623.0,397.0 620.0,395.0 616.94,393.63 614.0,392.0 610.0,391.93 606.0,392.0 603.16,390.53 600.0,390.0 597.13,387.34 594.0,385.0 591.0,384.48 588.0,384.0 584.69,383.21 581.37,382.48 578.0,382.0 574.67,382.49 571.33,381.56 568.0,382.0 563.89,383.21 560.0,385.0 556.77,386.66 554.0,389.0 549.85,390.71 546.0,393.0 541.99,392.62 538.0,392.0 534.44,390.1 531.0,388.0 529.11,385.2 528.0,382.0 524.05,380.36 520.0,379.0 516.92,378.97 513.92,378.47 510.95,377.82 508.0,377.0 504.5,375.67 501.25,373.82 498.0,372.0 495.04,370.39 492.34,368.44 490.0,366.0 487.68,363.21 486.0,360.0 482.8,358.89 480.0,357.0 476.67,357.15 473.33,357.52 470.0,357.0 466.67,356.59 463.33,356.87 460.0,357.0 456.0,357.39 452.0,357.0 448.72,357.93 445.37,358.5 442.0,359.0 438.46,358.14 435.0,357.0 432.97,354.2 432.0,350.81 430.0,348.0 428.43,345.01 425.97,342.69 424.0,340.0 421.32,338.35 418.43,337.05 416.0,335.0 413.67,332.95 411.87,330.45 410.0,328.0 407.79,325.49 406.29,322.45 404.0,320.0 402.15,316.13 401.0,312.0 400.81,308.61 402.16,305.38 402.0,302.0 401.78,299.0 401.11,296.03 401.3,293.0 401.0,290.0 400.78,285.96 401.6,282.0 401.43,278.66 401.73,275.3 401.0,272.0 402.06,268.75 402.54,265.38 403.0,262.0 405.31,259.31 408.0,257.0 410.96,256.11 413.91,255.14 417.07,255.04 420.0,254.0 422.03,251.02 424.0,248.0 423.63,244.61 422.48,241.37 422.0,238.0 419.73,234.14 418.0,230.0 417.67,226.6 417.19,223.23 416.0,220.0 415.88,216.94 415.33,213.94 414.85,210.94 414.0,208.0 415.75,204.09 417.0,200.0 417.71,196.58 419.02,193.34 420.0,190.0 419.51,186.68 418.82,183.38 419.0,180.0 417.01,176.18 416.0,172.0 413.0,168.0 413.26,164.96 414.0,162.0 416.88,160.26 420.0,159.0 421.69,155.58 423.0,152.0 424.97,148.18 426.0,144.0 425.44,140.01 425.0,136.0 421.0,132.0 423.87,129.31 426.0,126.0 428.45,123.3 430.0,120.0 433.35,117.35 436.0,114.0 434.37,111.07 433.0,108.0 434.21,103.89 436.0,100.0 434.71,96.58 434.0,93.0 436.95,92.17 440.0,92.0 439.18,89.05 439.0,86.0 438.64,81.98 438.0,78.0 437.94,73.95 437.0,70.0 435.31,66.79 433.0,64.0 434.0,59.0 436.99,56.48 440.0,54.0 442.44,52.13 444.88,50.25 447.0,48.0 448.09,44.8 450.0,42.0 449.67,38.48" fill="none" stroke="#28343f" stroke-width="1.55" stroke-linejoin="round"/>
<polygon points="529.6,386.8 531,383.4 534.2,378 536.6,379.4 539,382.4 541.4,381 544.2,379.2 547,380.6 550.2,383 552.8,385.8 553.8,389 550.4,391.8 546.2,393.6 542.2,392.2 538.2,392.8 535,391.6 531.6,389.6" fill="#fb6f0c" stroke="#f9a060" stroke-width="0.6"/>
</svg>

<div class="abs logo">InUMet</div>
<div class="abs sub">INSTITUTO URUGUAYO DE METEOROLOGÍA</div>

<div class="sq" style="left:351.9px;background:#0f870f"></div>
<div class="abs lg" style="left:362.5px">No existe riesgo</div>
<div class="sq" style="left:439px;background:#ffd60a"></div>
<div class="abs lg" style="left:451px">Riesgo para actividades concretas</div>
<div class="sq" style="left:596.7px;background:#f97a1e"></div>
<div class="abs lg" style="left:608px">Riesgo importante</div>
<div class="sq" style="left:692px;background:#f5101c"></div>
<div class="abs lg" style="left:704px">Riesgo extremo</div>
</body>
</html>
